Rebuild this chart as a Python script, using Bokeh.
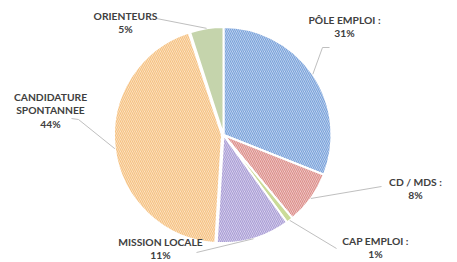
import math
from bokeh.plotting import figure
from bokeh.models import Range1d, ColumnDataSource
from bokeh.core.properties import value
from bokeh.embed import file_html
from bokeh.resources import INLINE

# ---- data ----
categories = ["PÔLE EMPLOI :", "CD / MDS :", "CAP EMPLOI :", "MISSION LOCALE", "CANDIDATURE\nSPONTANNEE", "ORIENTEURS"]
percents = [31, 8, 1, 11, 44, 5]
fill_colors = ["#CFDEF3", "#F3D4D2", "#CADB98", "#E0DBF1", "#FDE9CF", "#C5D4AC"]
hatch_colors = ["#7AA2DA", "#DC8F8B", "#B5CC78", "#A99DD5", "#F5C182", "#B9CB9C"]
hatch_patterns = ["\\", "\\", " ", "\\", "\\", " "]

# ---- layout (page pixel space; data y = H - page y) ----
W, H = 457, 262
def Y(py):
    return H - py

cx, cy, R = 223, 134.5, 108
label_pos = [(344, 19), (415, 181), (375, 240), (160, 241), (50, 96), (125, 15)]
leader_end = [[(322, 47), (329, 47)], [(381, 186)], [(336, 248)], [(196, 252)], [(78, 119), (71, 118)], [(156, 18)]]
explode = [0, 0, 0, 0, 1.5, 0]

p = figure(width=W, height=H, output_backend="svg", toolbar_location=None,
           x_range=Range1d(0, W), y_range=Range1d(0, H),
           min_border=0, outline_line_color=None)
p.axis.visible = False
p.grid.visible = False
p.background_fill_color = "white"
p.border_fill_color = "white"

total = sum(percents)
start = 90.0
xs, ys, sa, ea = [], [], [], []
mids = []
for i, v in enumerate(percents):
    span = 360.0 * v / total
    end = start - span
    mid = math.radians((start + end) / 2)
    mids.append(mid)
    xs.append(cx + explode[i] * math.cos(mid))
    ys.append(Y(cy) + explode[i] * math.sin(mid))
    sa.append(math.radians(end))
    ea.append(math.radians(start))
    start = end

src = ColumnDataSource(dict(x=xs, y=ys, sa=sa, ea=ea, fc=fill_colors, hc=hatch_colors, hp=hatch_patterns))
p.wedge(x="x", y="y", radius=R, start_angle="sa", end_angle="ea", source=src,
        fill_color="fc", hatch_color="hc", hatch_pattern="hp", hatch_scale=4, hatch_weight=1.2,
        line_color="white", line_width=2)

# leader lines
for i in range(len(percents)):
    sx = cx + (R + explode[i]) * math.cos(mids[i])
    sy = cy - (R + explode[i]) * math.sin(mids[i])
    pts = [(sx, sy)] + leader_end[i]
    p.line([q[0] for q in pts], [Y(q[1]) for q in pts], line_color="#BFBFBF", line_width=1)

# labels
tx, ty, tt = [], [], []
for i, cat in enumerate(categories):
    lines = cat.split("\n") + [f"{percents[i]}%"]
    lx, ly = label_pos[i]
    for k, t in enumerate(lines):
        tx.append(lx)
        ty.append(Y(ly + 13.5 * k))
        tt.append(t)
p.text(x=tx, y=ty, text=tt, text_font=value("Lato"), text_font_style="bold",
       text_font_size="10.3px", text_color="#404040", text_align="center", text_baseline="middle")

open("out.html", "w").write(file_html(p, INLINE))
